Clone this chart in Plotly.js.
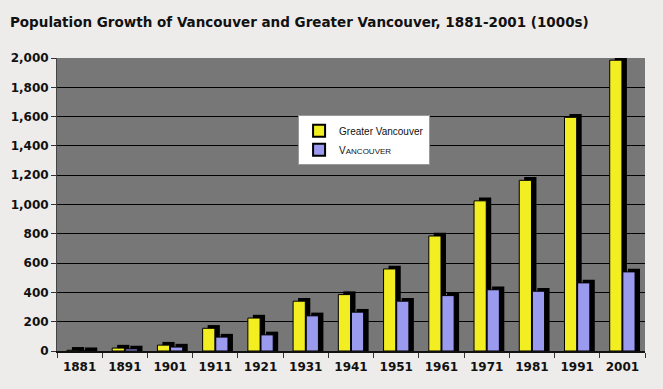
<!DOCTYPE html>
<html>
<head>
<meta charset="utf-8">
<script src="https://cdn.plot.ly/plotly-3.0.1.min.js"></script>
<style>
html,body{margin:0;padding:0;background:#eeecea;}
#chart{width:663px;height:389px;}
</style>
</head>
<body>
<div id="chart"></div>
<script>
const years = ["1881","1891","1901","1911","1921","1931","1941","1951","1961","1971","1981","1991","2001"];
const greaterVancouver = [5, 20, 40, 155, 225, 340, 385, 560, 785, 1025, 1165, 1595, 1985];
const vancouver = [2, 14, 27, 95, 110, 240, 265, 340, 378, 418, 408, 465, 540];

const depth = 22; // 3D top-face rise, in data units
const barW = 0.27;

function shadow(vals, off) {
  return {
    type: "bar", x: years, y: vals.map(v => v + depth),
    width: barW, offset: off + 0.11,
    marker: {color: "#000000", line: {width: 0}},
    showlegend: false, hoverinfo: "skip"
  };
}

const traces = [
  shadow(greaterVancouver, -0.28),
  {
    type: "bar", x: years, y: greaterVancouver, name: "Greater Vancouver",
    width: barW, offset: -0.28,
    marker: {color: "#f2ee22", line: {color: "#000000", width: 1}}
  },
  shadow(vancouver, 0.01),
  {
    type: "bar", x: years, y: vancouver,
    name: "V<span style='font-size:8px'>ANCOUVER</span>",
    width: barW, offset: 0.01,
    marker: {color: "#9a9aee", line: {color: "#000000", width: 1}}
  }
];

const layout = {
  width: 663, height: 389,
  paper_bgcolor: "#eeecea",
  plot_bgcolor: "#777777",
  margin: {l: 57, r: 18, t: 58, b: 38},
  barmode: "overlay",
  title: {
    text: "Population Growth of Vancouver and Greater Vancouver, 1881-2001 (1000s)",
    x: 0.015, xanchor: "left", xref: "container",
    y: 0.943, yanchor: "middle", yref: "container",
    font: {family: "DejaVu Sans", size: 13.5, color: "#111111", weight: "bold"}
  },
  font: {family: "DejaVu Sans", color: "#111111"},
  xaxis: {
    type: "category",
    tickson: "boundaries",
    ticks: "outside", ticklen: 5, tickcolor: "#333333",
    ticklabelstandoff: 4,
    showgrid: false,
    showline: true, linecolor: "#111111", linewidth: 2,
    tickfont: {family: "DejaVu Sans", size: 12, color: "#111111", weight: "bold"}
  },
  yaxis: {
    range: [0, 2000],
    dtick: 200, tickformat: ",",
    ticks: "outside", ticklen: 5, tickcolor: "#333333",
    showgrid: true, gridcolor: "#000000", gridwidth: 1,
    zeroline: false,
    showline: true, linecolor: "#444444", linewidth: 1,
    tickfont: {family: "DejaVu Sans", size: 12, color: "#111111", weight: "bold"}
  },
  legend: {
    x: 0.41, y: 0.805, xanchor: "left", yanchor: "top",
    bgcolor: "#ffffff", bordercolor: "#999999", borderwidth: 1,
    font: {family: "Liberation Sans Narrow, Liberation Sans", size: 10, color: "#111111"},
    tracegroupgap: 0, itemwidth: 30,
    itemsizing: "constant"
  },
  showlegend: true
};

Plotly.newPlot("chart", traces, layout, {displayModeBar: false, staticPlot: true});
</script>
</body>
</html>
